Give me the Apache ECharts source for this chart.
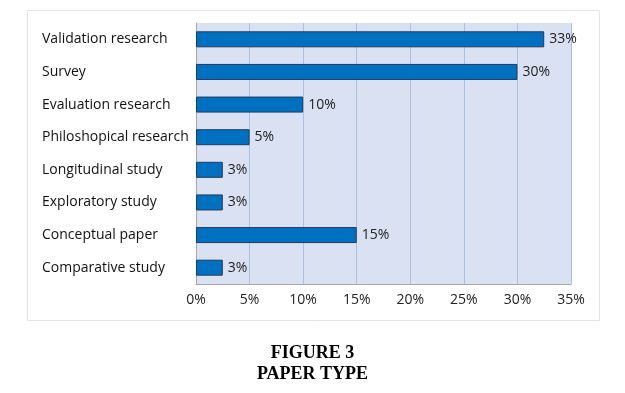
<!DOCTYPE html>
<html>
<head>
<meta charset="utf-8">
<script src="https://cdn.jsdelivr.net/npm/echarts@6/dist/echarts.min.js"></script>
<style>
html,body{margin:0;padding:0;background:#fff;}
#c{width:625px;height:393px;}
</style>
</head>
<body>
<div id="c"></div>
<script>
const categories = ["Validation research","Survey","Evaluation research","Philoshopical research","Longitudinal study","Exploratory study","Conceptual paper","Comparative study"];
const values = [32.5, 30, 10, 5, 2.5, 2.5, 15, 2.5];
const valueLabels = ["33%","30%","10%","5%","3%","3%","15%","3%"];
const titleLines = ["FIGURE 3","PAPER TYPE"];

const chart = echarts.init(document.getElementById('c'), null, {renderer:'canvas'});
const font = "'Open Sans', 'Noto Sans', sans-serif";
chart.setOption({
  animation:false,
  backgroundColor:'#ffffff',
  title:{
    text: titleLines.join('\n'),
    left:'center', top:338,
    textStyle:{fontFamily:"'Liberation Serif', 'Times New Roman', serif", fontWeight:'bold', fontSize:18, color:'#000', lineHeight:21}
  },
  graphic:[{type:'rect', shape:{x:27.5,y:10.5,width:572,height:310}, style:{fill:'none', stroke:'#e4e4e4', lineWidth:1}, z:-10}],
  grid:{left:196, right:54, top:23, bottom:109, show:true, backgroundColor:'#D9E1F2', borderWidth:0},
  xAxis:{
    type:'value', min:0, max:35, interval:5,
    axisLine:{show:true, lineStyle:{color:'#A6A6A6', width:1}},
    axisTick:{show:false},
    axisLabel:{formatter:'{value}%', fontFamily:font, fontSize:14, color:'#222', margin:9},
    splitLine:{show:true, lineStyle:{color:'#A9BFE3', width:1}}
  },
  yAxis:{
    type:'category', data:categories, inverse:true,
    axisLine:{show:true, lineStyle:{color:'#A6A6A6', width:1}},
    axisTick:{show:false},
    axisLabel:{align:'left', margin:154, fontFamily:font, fontSize:14, color:'#111'}
  },
  series:[{
    type:'bar', data:values, barWidth:16,
    itemStyle:{color:'#0070C0', borderColor:'#1F3A5F', borderWidth:1},
    label:{show:true, position:'right', distance:5, fontFamily:font, fontSize:14, color:'#222',
      formatter:p=>valueLabels[p.dataIndex]}
  }]
});
</script>
</body>
</html>
